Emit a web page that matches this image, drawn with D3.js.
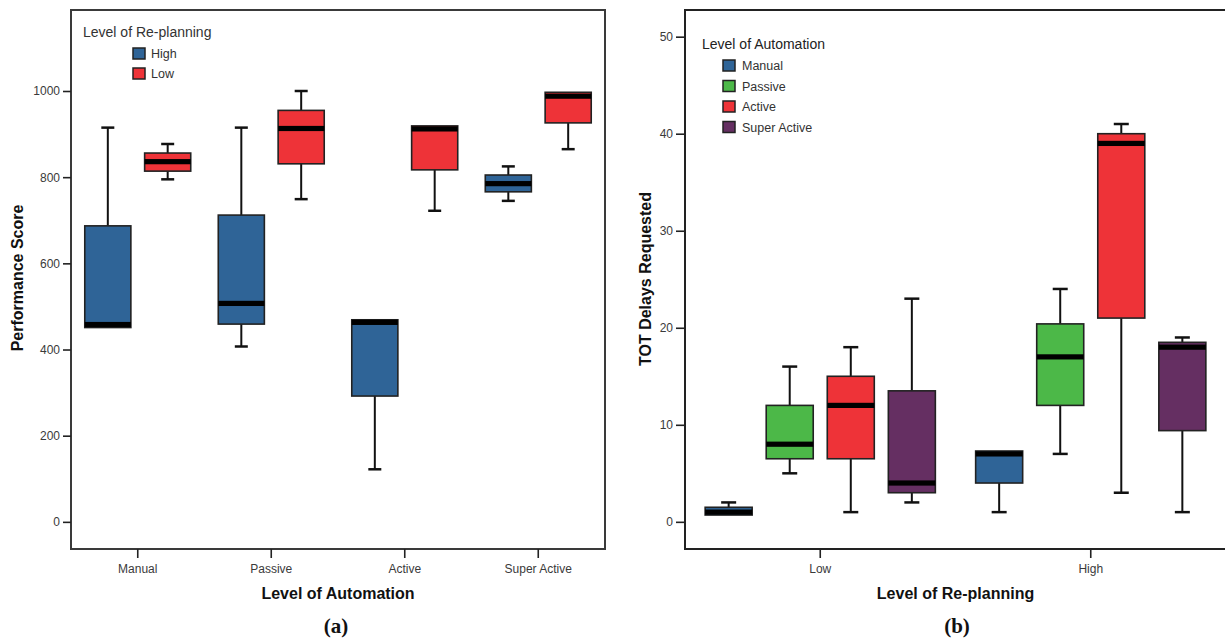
<!DOCTYPE html>
<html>
<head>
<meta charset="utf-8">
<script src="https://cdn.jsdelivr.net/npm/d3@7"></script>
<style>
  html, body { margin: 0; padding: 0; background: #fff; }
  svg { display: block; }
  text { font-family: "Liberation Sans", Arial, Helvetica, sans-serif; }
</style>
</head>
<body>
<svg id="chart" width="1225" height="639"></svg>
<script>
// ---------------- DATA ----------------
const automationLevels = ["Manual", "Passive", "Active", "Super Active"];
const replanLevels = ["High", "Low"];            // panel (a) groups / legend
const replanAxis = ["Low", "High"];              // panel (b) x categories

// Panel (a): Performance Score  [min, q1, median, q3, max]
const perfHigh = [
  [451, 451, 458, 687, 915],
  [407, 459, 507, 712, 915],
  [122, 292, 463, 469, 469],
  [745, 766, 785, 805, 825]
];
const perfLow = [
  [795, 814, 836, 856, 877],
  [749, 831, 913, 955, 1000],
  [722, 817, 912, 919, 919],
  [865, 926, 988, 997, 997]
];
const perfTicks = [0, 200, 400, 600, 800, 1000];

// Panel (b): TOT Delays Requested  [min, q1, median, q3, max] per automation level
const totLow = [
  [0.7, 0.7, 1.0, 1.5, 2],
  [5, 6.5, 8, 12, 16],
  [1, 6.5, 12, 15, 18],
  [2, 3, 4, 13.5, 23]
];
const totHigh = [
  [1, 4, 7, 7.3, 7.3],
  [7, 12, 17, 20.4, 24],
  [3, 21, 39, 40, 41],
  [1, 9.4, 18, 18.5, 19]
];
const totTicks = [0, 10, 20, 30, 40, 50];

// ---------------- STYLE ----------------
const colorsReplan = { High: "#2f6497", Low: "#ee3338" };
const colorsAuto = { "Manual": "#2f6497", "Passive": "#4cb848", "Active": "#ee3338", "Super Active": "#652f62" };

const svg = d3.select("#chart");

function drawBox(g, cx, bw, stats, y, fill, capW) {
  const [mn, q1, md, q3, mx] = stats;
  const x0 = cx - bw / 2;
  if (mx > q3) {
    g.append("line").attr("x1", cx).attr("x2", cx).attr("y1", y(q3)).attr("y2", y(mx))
      .attr("stroke", "#111").attr("stroke-width", 2);
    g.append("line").attr("x1", cx - capW / 2).attr("x2", cx + capW / 2).attr("y1", y(mx)).attr("y2", y(mx))
      .attr("stroke", "#111").attr("stroke-width", 2.5);
  }
  if (mn < q1) {
    g.append("line").attr("x1", cx).attr("x2", cx).attr("y1", y(q1)).attr("y2", y(mn))
      .attr("stroke", "#111").attr("stroke-width", 2);
    g.append("line").attr("x1", cx - capW / 2).attr("x2", cx + capW / 2).attr("y1", y(mn)).attr("y2", y(mn))
      .attr("stroke", "#111").attr("stroke-width", 2.5);
  }
  g.append("rect").attr("x", x0).attr("y", y(q3)).attr("width", bw).attr("height", Math.max(1, y(q1) - y(q3)))
    .attr("fill", fill).attr("stroke", "#222").attr("stroke-width", 1.6);
  const mTop = Math.max(y(md) - 2.6, y(q3));
  const mBot = Math.min(y(md) + 2.6, y(q1));
  g.append("rect").attr("x", x0).attr("y", mTop).attr("width", bw).attr("height", Math.max(0, mBot - mTop))
    .attr("fill", "#000");
}

function styleAxis(sel) {
  sel.select(".domain").remove();
  sel.selectAll(".tick line").attr("stroke", "#222").attr("stroke-width", 1.6);
  sel.selectAll(".tick text").attr("fill", "#3a3a3a").style("font-size", "12px")
    .style("font-family", "'Liberation Sans', Arial, sans-serif");
}

// ---------------- PANEL (a) ----------------
const A = { x0: 71, x1: 605, y0: 10, y1: 549 };
const xA = d3.scaleBand().domain(automationLevels).range([A.x0, A.x1]).padding(0);
const subA = d3.scaleBand().domain(replanLevels).range([0, xA.bandwidth()]).paddingInner(0.23).paddingOuter(0.23);
const yA = d3.scaleLinear().domain([-63, 1188]).range([A.y1, A.y0]);

const gA = svg.append("g");
gA.append("rect").attr("x", A.x0).attr("y", A.y0).attr("width", A.x1 - A.x0).attr("height", A.y1 - A.y0)
  .attr("fill", "none").attr("stroke", "#3a3a3a").attr("stroke-width", 2);

gA.append("g").attr("transform", `translate(${A.x0},0)`)
  .call(d3.axisLeft(yA).tickValues(perfTicks).tickFormat(d3.format("d")).tickSize(8).tickPadding(3))
  .call(styleAxis);
gA.append("g").attr("transform", `translate(0,${A.y1})`)
  .call(d3.axisBottom(xA).tickSize(9).tickPadding(6))
  .call(styleAxis);

automationLevels.forEach((lvl, i) => {
  const bw = subA.bandwidth();
  drawBox(gA, xA(lvl) + subA("High") + bw / 2, bw, perfHigh[i], yA, colorsReplan.High, 13);
  drawBox(gA, xA(lvl) + subA("Low") + bw / 2, bw, perfLow[i], yA, colorsReplan.Low, 13);
});

// legend (a)
gA.append("text").attr("x", 83).attr("y", 32).attr("dominant-baseline", "central")
  .style("font-size", "14px").attr("fill", "#333").text("Level of Re-planning");
replanLevels.forEach((r, i) => {
  const yy = 48 + i * 20;
  gA.append("rect").attr("x", 133).attr("y", yy).attr("width", 12).attr("height", 11)
    .attr("fill", colorsReplan[r]).attr("stroke", "#222").attr("stroke-width", 1.5);
  gA.append("text").attr("x", 151).attr("y", yy + 6).attr("dominant-baseline", "central")
    .style("font-size", "12.5px").attr("fill", "#333").text(r);
});

// titles (a)
gA.append("text").attr("transform", `translate(17,278) rotate(-90)`).attr("text-anchor", "middle")
  .attr("dominant-baseline", "central").style("font-size", "16px").style("font-weight", "bold")
  .attr("fill", "#111").text("Performance Score");
gA.append("text").attr("x", (A.x0 + A.x1) / 2).attr("y", 593).attr("text-anchor", "middle")
  .attr("dominant-baseline", "central").style("font-size", "16px").style("font-weight", "bold")
  .attr("fill", "#111").text("Level of Automation");
gA.append("text").attr("x", 336).attr("y", 626).attr("text-anchor", "middle")
  .attr("dominant-baseline", "central").style("font-family", "'Liberation Serif', 'Times New Roman', serif")
  .style("font-size", "21px").style("font-weight", "bold").attr("fill", "#111").text("(a)");

// ---------------- PANEL (b) ----------------
const B = { x0: 685, x1: 1226, y0: 10, y1: 549 };
const xB = d3.scaleBand().domain(replanAxis).range([B.x0, B.x1]).padding(0);
const subB = d3.scaleBand().domain(automationLevels).range([0, xB.bandwidth()]).paddingInner(0.23).paddingOuter(0.33);
const yB = d3.scaleLinear().domain([-2.8, 52.75]).range([B.y1, B.y0]);

const gB = svg.append("g");
gB.append("path")
  .attr("d", `M${B.x1},${B.y0}H${B.x0}V${B.y1}H${B.x1}`)
  .attr("fill", "none").attr("stroke", "#222").attr("stroke-width", 2);

gB.append("g").attr("transform", `translate(${B.x0},0)`)
  .call(d3.axisLeft(yB).tickValues(totTicks).tickFormat(d3.format("d")).tickSize(9).tickPadding(3))
  .call(styleAxis);
gB.append("g").attr("transform", `translate(0,${B.y1})`)
  .call(d3.axisBottom(xB).tickSize(9).tickPadding(6))
  .call(styleAxis);

replanAxis.forEach(rp => {
  const data = rp === "Low" ? totLow : totHigh;
  automationLevels.forEach((lvl, i) => {
    const bw = subB.bandwidth();
    drawBox(gB, xB(rp) + subB(lvl) + bw / 2, bw, data[i], yB, colorsAuto[lvl], 15);
  });
});

// legend (b)
gB.append("text").attr("x", 702).attr("y", 44).attr("dominant-baseline", "central")
  .style("font-size", "14px").attr("fill", "#222").text("Level of Automation");
automationLevels.forEach((lvl, i) => {
  const yy = 60 + i * 20.5;
  gB.append("rect").attr("x", 723).attr("y", yy).attr("width", 12).attr("height", 11)
    .attr("fill", colorsAuto[lvl]).attr("stroke", "#222").attr("stroke-width", 1.5);
  gB.append("text").attr("x", 742).attr("y", yy + 6).attr("dominant-baseline", "central")
    .style("font-size", "12.5px").attr("fill", "#333").text(lvl);
});

// titles (b)
gB.append("text").attr("transform", `translate(645,279) rotate(-90)`).attr("text-anchor", "middle")
  .attr("dominant-baseline", "central").style("font-size", "16px").style("font-weight", "bold")
  .attr("fill", "#111").text("TOT Delays Requested");
gB.append("text").attr("x", (B.x0 + B.x1) / 2).attr("y", 593).attr("text-anchor", "middle")
  .attr("dominant-baseline", "central").style("font-size", "16px").style("font-weight", "bold")
  .attr("fill", "#111").text("Level of Re-planning");
gB.append("text").attr("x", 957).attr("y", 626).attr("text-anchor", "middle")
  .attr("dominant-baseline", "central").style("font-family", "'Liberation Serif', 'Times New Roman', serif")
  .style("font-size", "21px").style("font-weight", "bold").attr("fill", "#111").text("(b)");
</script>
</body>
</html>
